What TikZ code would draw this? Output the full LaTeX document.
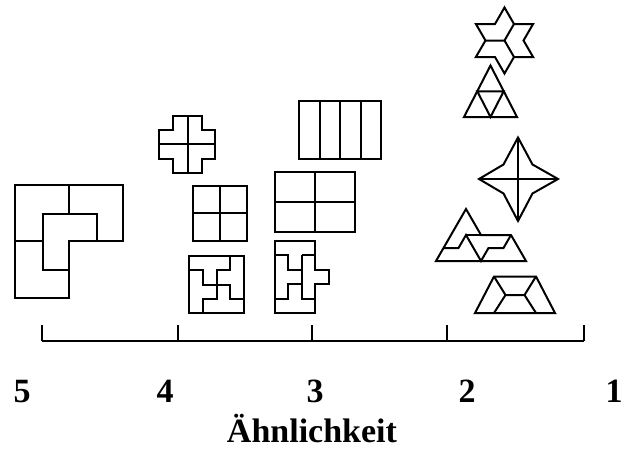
\documentclass[tikz,border=0pt]{standalone}
\usepackage{fontspec}
\setmainfont{Liberation Serif}
\usepackage{tikz}

\begin{document}
\begin{tikzpicture}[x=1pt,y=-1pt,
		piece/.style={draw, line width=2pt, line join=miter},
		scaleline/.style={draw, line width=2pt},
		rating/.style={font=\fontsize{34}{40}\selectfont\bfseries, inner sep=0pt, anchor=base}]
		\useasboundingbox (0,0) rectangle (625,450);
		% Stufe 5: L-Form
		\draw[piece] (15,185) -- (123,185) -- (123,241) -- (69,241) -- (69,298) -- (15,298) -- cycle;
		\draw[piece] (43,214) -- (97,214) -- (97,241) -- (69,241) -- (69,270) -- (43,270) -- cycle;
		\draw[piece] (69,185) -- (69,214) (15,241) -- (43,241);
		% Stufe 4: Kreuz, Quadrat, Windrad
		\draw[piece] (173,116) -- (202,116) -- (202,130) -- (215,130) -- (215,159) -- (202,159)
			-- (202,173) -- (173,173) -- (173,159) -- (159,159) -- (159,130) -- (173,130) -- cycle;
		\draw[piece] (188,116) -- (188,173) (159,144) -- (215,144);
		\draw[piece] (193,186) rectangle (247,241) (220,186) -- (220,241) (193,213) -- (247,213);
		\begin{scope}[shift={(189,256)}, x=13.75pt, y=-14.25pt]
			\draw[piece] (0,0) rectangle (4,4);
			\draw[piece] (0,1) -- (1,1) -- (1,2) -- (3,2) -- (3,3) -- (4,3);
			\draw[piece] (3,0) -- (3,1) -- (2,1) -- (2,3) -- (1,3) -- (1,4);
		\end{scope}
		% Stufe 3: Streifen, Rechteck, T-Teile
		\draw[piece] (299,101) rectangle (381,159);
		\foreach \x in {319.5, 340, 360.5}
			\draw[piece] (\x,101) -- (\x,159);
		\draw[piece] (275,172) rectangle (355,232) (315,172) -- (315,232) (275,202) -- (355,202);
		\begin{scope}[shift={(275,241)}, x=13.4pt, y=-14.4pt]
			\draw[piece] (0,0) -- (3,0) -- (3,2) -- (4,2) -- (4,3) -- (3,3) -- (3,5) -- (0,5) -- cycle;
			\draw[piece] (0,1) -- (1,1) -- (1,2) -- (2,2) (2,1) -- (3,1);
			\draw[piece] (2,1) -- (2,4) -- (3,4) (0,4) -- (1,4) -- (1,3) -- (2,3);
		\end{scope}
		% Stufe 2: Stern, Dreieck, Raute, Dreiecke, Trapez
		\draw[piece] (504.5,7.5) -- (514,24) -- (533.1,24) -- (523.5,40.5) -- (533.1,57) -- (514,57)
			-- (504.5,73.5) -- (495,57) -- (475.9,57) -- (485.5,40.5) -- (475.9,24) -- (495,24) -- cycle;
		\draw[piece] (485.5,40.5) -- (504.5,40.5) (514,24) -- (504.5,40.5) -- (514,57);
		\draw[piece] (464,117) -- (490.5,65.5) -- (517,117) -- cycle;
		\draw[piece] (477.25,91.25) -- (503.75,91.25) -- (490.5,117) -- cycle;
		\draw[piece] (518,137.5) -- (532.5,164.5) -- (558,179) -- (532.5,193.5) -- (518,221)
			-- (503.5,193.5) -- (479,179) -- (503.5,164.5) -- cycle;
		\draw[piece] (518,137.5) -- (518,221) (479,179) -- (558,179);
		\draw[piece] (436,261) -- (466,209) -- (481,235) -- (511,235) -- (526,261) -- cycle;
		\draw[piece] (466,235) -- (481,235);
		\draw[piece] (443.5,248) -- (458.5,248) -- (466,235) -- (481,261) -- (488.5,248) -- (503.5,248) -- (511,235);
		\draw[piece] (475,313) -- (494,276.5) -- (536,276.5) -- (555,313) -- cycle;
		\draw[piece] (494,276.5) -- (505.5,295) -- (524.5,295) -- (536,276.5)
			(505.5,295) -- (494,313) (524.5,295) -- (536,313);
		% Skala
		\draw[scaleline] (42,341) -- (584,341);
		\foreach \x in {42, 178, 312, 447, 584}
			\draw[scaleline] (\x,325) -- (\x,341);
		\node[rating] (r5) at (22,402) {5};
		\node[rating] (r4) at (165,402) {4};
		\node[rating] (r3) at (315,402) {3};
		\node[rating] (r2) at (467,402) {2};
		\node[rating] (r1) at (614,402) {1};
		\node[rating] (titel) at (312,442) {Ähnlichkeit};
\end{tikzpicture}
\end{document}
